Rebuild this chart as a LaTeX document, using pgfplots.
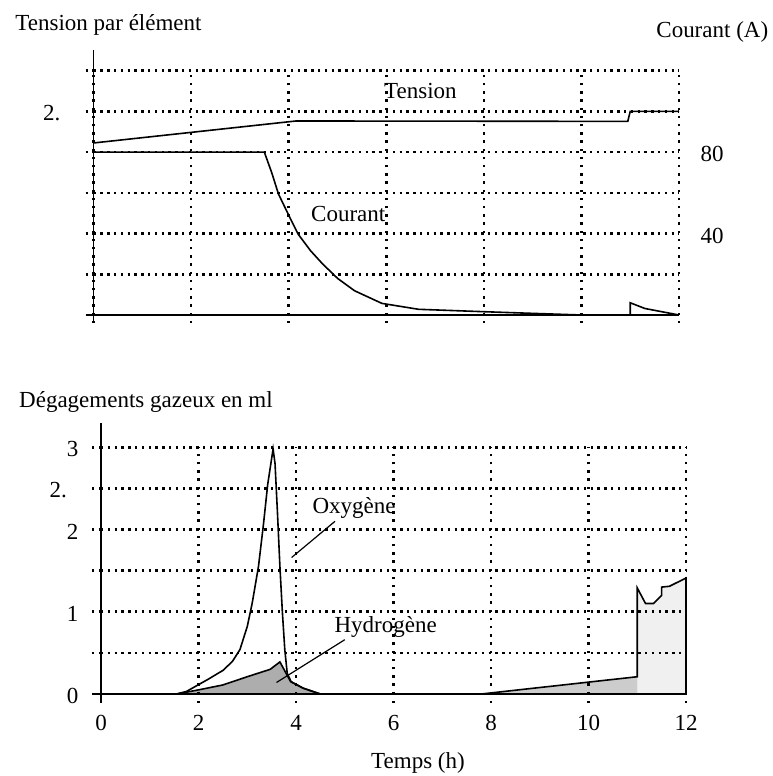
\documentclass[border=0pt]{standalone}
\usepackage{fontspec}
\setmainfont{Liberation Serif}
\usepackage{pgfplots}
\pgfplotsset{compat=1.18}
\begin{document}
\fontsize{11.5}{13.5}\selectfont
\begin{tikzpicture}[font=\fontsize{11.5}{13.5}\selectfont]
\path[use as bounding box] (0,0) rectangle (386pt,388pt);
\tikzset{
  hstyle/.style={black, line width=1.3pt, dash pattern=on 1.2pt off 2.2pt},
  vstyle/.style={black, line width=1.3pt, dash pattern=on 1.2pt off 2.9pt},
}
\pgfplotsset{
  gridset/.style={
    tick align=outside,
    xtick style={vstyle}, ytick style={hstyle},
    grid=major, major x grid style={vstyle}, major y grid style={hstyle},
  }
}

% ---------------- upper chart ----------------
\begin{axis}[
  at={(46.8pt,230.5pt)}, anchor=south west, scale only axis,
  width=292.7pt, height=122.15pt,
  xmin=0, xmax=12, ymin=0, ymax=120,
  axis x line*=bottom, axis y line*=left,
  axis line style={draw=none},
  xtick={0,2,...,12}, xticklabels={},
  ytick={0,20,...,120}, yticklabels={,,,,,{2.\phantom{5}},},
  major tick length=4pt, gridset,
  tick label style={font=\fontsize{11.5}{13.5}\selectfont},
  yticklabel style={xshift=-2.8pt, yshift=-1pt},
  clip=false,
]
\addplot[black, line width=0.8pt] coordinates {
 (0,84.5) (4.15,95.3) (10.95,95.1) (11,100) (12,100)};
\addplot[black, line width=0.8pt] coordinates {
 (0,80) (3.5,80) (3.65,70) (3.79,59.4) (4.0,49) (4.19,39.8) (4.45,31.5)
 (4.69,25.2) (5.0,18) (5.35,11.9) (5.91,5.7) (6.66,2.8) (8.02,1.6)
 (9.0,0.8) (10.0,0) (11,0) (11,6) (11.3,3.2) (12,0)};
\draw[black, line width=0.8pt] (axis cs:0,0) ++(0,-4pt) -- (axis cs:0,130.2);
\draw[black, line width=0.8pt] (axis cs:0,0) ++(-3.8pt,0) -- (axis cs:12,0);
\node at (axis cs:6.7,109.8) {Tension};
\node at (axis cs:5.22,49.6) {Courant};
\end{axis}

\begin{axis}[
  at={(46.8pt,230.5pt)}, anchor=south west, scale only axis,
  width=292.7pt, height=122.15pt,
  xmin=0, xmax=12, ymin=0, ymax=120,
  axis x line=none, axis y line*=right,
  axis line style={draw=none},
  ytick={40,80}, yticklabels={40,80},
  major tick length=0pt,
  tick label style={font=\fontsize{11.5}{13.5}\selectfont},
  yticklabel style={xshift=6.8pt, yshift=-1pt},
]
\end{axis}

% ---------------- lower chart ----------------
\begin{axis}[
  at={(50.5pt,41pt)}, anchor=south west, scale only axis,
  width=292.5pt, height=123.35pt,
  xmin=0, xmax=12, ymin=0, ymax=3,
  axis x line*=bottom, axis y line*=left,
  axis line style={draw=none},
  xtick={0,2,...,12}, xticklabels={0,2,4,6,8,10,12},
  ytick={0,0.5,...,3}, yticklabels={0,,1,,2,{2.\phantom{5}},3},
  major tick length=4.5pt, gridset,
  axis on top,
  tick label style={font=\fontsize{11.5}{13.5}\selectfont},
  xticklabel style={yshift=-2pt},
  yticklabel style={xshift=-2.8pt, yshift=-1pt},
  clip=false,
]
% light area after 11 h
\addplot[draw=none, fill=black!6] coordinates {
 (11,0) (11,1.29) (11.17,1.10) (11.33,1.10) (11.5,1.2) (11.5,1.30)
 (11.66,1.31) (12,1.41) (12,0)} \closedcycle;
% ramp area 7.8 - 11 h
\addplot[draw=none, fill=black!20] coordinates {
 (7.8,0) (11,0.21) (11,0)} \closedcycle;
% hydrogen bump
\addplot[black, line width=0.8pt, fill=black!32] coordinates {
 (1.55,0) (2.0,0.05) (2.5,0.11) (3.0,0.21) (3.47,0.30) (3.67,0.39)
 (3.89,0.15) (4.15,0.07) (4.5,0)} \closedcycle;
% oxygen
\addplot[black, line width=0.8pt] coordinates {
 (0,0) (1.55,0) (1.75,0.03) (1.96,0.10) (2.2,0.18) (2.51,0.29) (2.7,0.40)
 (2.85,0.54) (3.0,0.82) (3.1,1.10) (3.23,1.55) (3.33,2.05) (3.42,2.55)
 (3.53,2.98) (3.57,2.80) (3.62,2.20) (3.67,1.55) (3.72,1.00) (3.77,0.54)
 (3.82,0.25) (3.9,0.15) (4.15,0.07) (4.5,0) (7.8,0) (11,0.21) (11,1.29)
 (11.17,1.10) (11.33,1.10) (11.5,1.2) (11.5,1.30) (11.66,1.31) (12,1.41) (12,0)};
\draw[black, line width=0.8pt] (axis cs:0,0) ++(0,-4.5pt) -- (axis cs:0,3.29);
\draw[black, line width=0.8pt] (axis cs:0,0) ++(-3.5pt,0) -- (axis cs:12,0);
\draw[black, line width=0.6pt] (axis cs:4.80,2.10) -- (axis cs:3.91,1.66);
\draw[black, line width=0.6pt] (axis cs:5.0,0.66) -- (axis cs:3.6,0.14);
\node at (axis cs:5.19,2.26) {Oxygène};
\node at (axis cs:5.84,0.82) {Hydrogène};
\end{axis}

\node[anchor=west, inner sep=0] at (7.5pt,375.5pt) {Tension par élément};
\node[anchor=west, inner sep=0] at (328pt,372.25pt) {Courant (A)};
\node[anchor=west, inner sep=0] at (9.4pt,187.15pt) {Dégagements gazeux en ml};
\node[inner sep=0] at (209pt,6.5pt) {Temps (h)};
\end{tikzpicture}
\end{document}
